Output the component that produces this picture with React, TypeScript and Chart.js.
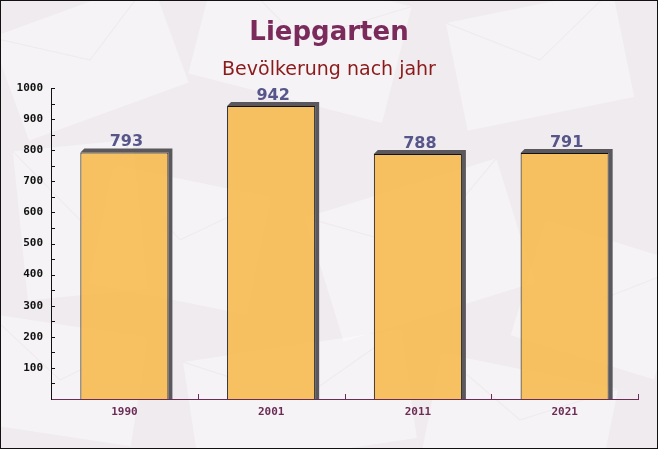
import React, { useEffect, useRef } from "react";
import { Chart, registerables } from "chart.js";

Chart.register(...registerables);

const TITLE = "Liepgarten";
const SUBTITLE = "Bevölkerung nach jahr";
const years = ["1990", "2001", "2011", "2021"];
const population = [793, 942, 788, 791];
const Y_MIN = 0;
const Y_MAX = 1000;
const Y_STEP = 50;

const W = 658;
const H = 449;

const decoPlugin = {
  id: "deco",
  beforeDraw(chart: any) {
    const ctx = chart.ctx;
    ctx.save();
    ctx.fillStyle = "#efebee";
    ctx.fillRect(0, 0, W, H);
    const shapes = [
      [90, 60, 170, 110, -0.35],
      [300, 40, 200, 120, 0.25],
      [540, 60, 170, 110, -0.2],
      [180, 240, 160, 120, 0.2],
      [420, 250, 200, 130, -0.3],
      [600, 300, 150, 120, 0.3],
      [60, 380, 160, 110, 0.15],
      [300, 400, 220, 110, -0.15],
      [520, 420, 180, 100, 0.2],
      [80, 220, 120, 150, -0.1],
    ];
    for (const [cx, cy, w, h, r] of shapes) {
      ctx.save();
      ctx.translate(cx, cy);
      ctx.rotate(r);
      ctx.fillStyle = "rgba(255,255,255,0.4)";
      ctx.fillRect(-w / 2, -h / 2, w, h);
      ctx.strokeStyle = "rgba(230,222,228,0.45)";
      ctx.lineWidth = 1;
      ctx.beginPath();
      ctx.moveTo(-w / 2, -h / 2);
      ctx.lineTo(0, 0);
      ctx.lineTo(w / 2, -h / 2);
      ctx.stroke();
      ctx.restore();
    }
    ctx.restore();
  },
  beforeDatasetsDraw(chart: any) {
    const ctx = chart.ctx;
    const meta = chart.getDatasetMeta(0);
    const d = 4;
    ctx.save();
    ctx.fillStyle = "#5a585c";
    meta.data.forEach((bar: any) => {
      const p = bar.getProps(["x", "y", "base", "width"], true);
      const l = p.x - p.width / 2;
      const r = p.x + p.width / 2;
      ctx.beginPath();
      ctx.moveTo(l, p.y);
      ctx.lineTo(l + d, p.y - d);
      ctx.lineTo(r + d, p.y - d);
      ctx.lineTo(r + d, p.base);
      ctx.lineTo(r, p.base);
      ctx.lineTo(r, p.y);
      ctx.closePath();
      ctx.fill();
    });
    ctx.restore();
  },
  afterDraw(chart: any) {
    const ctx = chart.ctx;
    const area = chart.chartArea;
    const ys = chart.scales.y;
    const xs = chart.scales.x;
    ctx.save();
    ctx.strokeStyle = "#111";
    ctx.lineWidth = 1;
    for (let v = Y_MIN + Y_STEP; v <= Y_MAX; v += Y_STEP) {
      const y = Math.round(ys.getPixelForValue(v)) + 0.5;
      ctx.beginPath();
      ctx.moveTo(area.left, y);
      ctx.lineTo(area.left + 4, y);
      ctx.stroke();
    }
    ctx.strokeStyle = "#6b2d55";
    for (let i = 1; i <= years.length; i++) {
      const x =
        i < years.length
          ? (xs.getPixelForTick(i - 1) + xs.getPixelForTick(i)) / 2
          : area.right;
      const xx = Math.round(x) + 0.5;
      ctx.beginPath();
      ctx.moveTo(xx, area.bottom);
      ctx.lineTo(xx, area.bottom - 5);
      ctx.stroke();
    }
    const meta = chart.getDatasetMeta(0);
    ctx.fillStyle = "#56568a";
    ctx.font = "bold 16px 'DejaVu Sans'";
    ctx.textAlign = "center";
    ctx.textBaseline = "alphabetic";
    meta.data.forEach((bar: any, i: number) => {
      const p = bar.getProps(["x", "y"], true);
      ctx.fillText(String(population[i]), p.x + 2, p.y - 6);
    });
    ctx.fillStyle = "#7a2b5c";
    ctx.font = "bold 26px 'DejaVu Sans'";
    ctx.fillText(TITLE, W / 2, 40);
    ctx.fillStyle = "#8b1a1a";
    ctx.font = "19px 'DejaVu Sans'";
    ctx.fillText(SUBTITLE, W / 2, 75);
    ctx.strokeStyle = "#111";
    ctx.strokeRect(0.5, 0.5, W - 1, H - 1);
    ctx.restore();
  },
};

export default function App() {
  const ref = useRef<HTMLCanvasElement>(null);
  useEffect(() => {
    if (!ref.current) return;
    const chart = new Chart(ref.current, {
      type: "bar",
      data: {
        labels: years,
        datasets: [
          {
            data: population,
            backgroundColor: "rgba(248,182,66,0.82)",
            borderColor: "#111",
            borderWidth: { left: 1, top: 1, right: 1, bottom: 0 },
            borderSkipped: false,
            barPercentage: 0.6,
            categoryPercentage: 1,
          },
        ],
      },
      options: {
        responsive: false,
        animation: false,
        devicePixelRatio: 1,
        layout: { padding: { top: 88, right: 20, bottom: 0, left: 0 } },
        plugins: {
          legend: { display: false },
          title: { display: false },
          tooltip: { enabled: false },
        },
        scales: {
          x: {
            type: "category",
            grid: { display: false, drawTicks: false },
            border: { display: true, color: "#6b2d55", width: 1 },
            ticks: {
              color: "#6b2d55",
              font: { family: "'DejaVu Sans Mono'", weight: "bold", size: 11 },
              padding: 7,
            },
            afterFit(scale: any) {
              scale.height = 50;
            },
          },
          y: {
            min: Y_MIN,
            max: Y_MAX,
            grid: { display: false, drawTicks: false },
            border: { display: true, color: "#111", width: 1 },
            ticks: {
              stepSize: Y_STEP,
              autoSkip: false,
              color: "#111",
              font: { family: "'DejaVu Sans Mono'", weight: "bold", size: 11 },
              padding: 8,
              callback: (v: any) => (v % 100 === 0 && v !== 0 ? String(v) : ""),
            },
            afterFit(scale: any) {
              scale.width = 51;
            },
          },
        },
      },
      plugins: [decoPlugin],
    });
    return () => chart.destroy();
  }, []);
  return (
    <div style={{ position: "absolute", left: 0, top: 0 }}>
      <canvas ref={ref} width={W} height={H} style={{ width: W, height: H, display: "block" }} />
    </div>
  );
}
